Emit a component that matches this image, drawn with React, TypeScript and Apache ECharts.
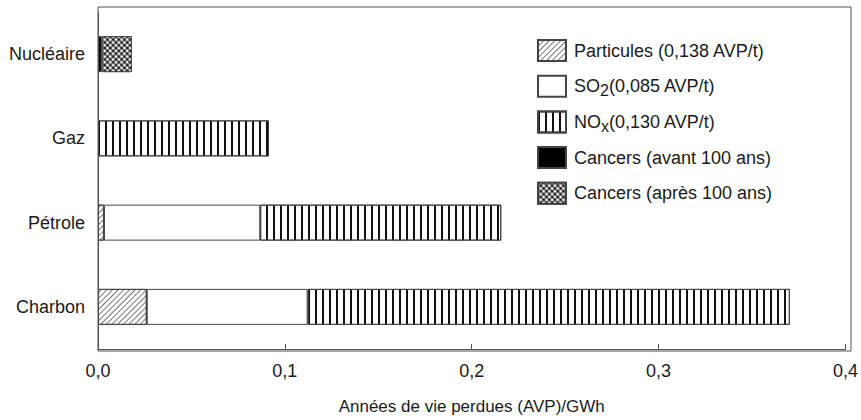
import React, { useEffect, useRef } from "react";
import * as echarts from "echarts";

const categories = ["Nucléaire", "Gaz", "Pétrole", "Charbon"];
const particules = [null, null, 0.0032, 0.0261];
const so2 = [null, null, 0.0836, 0.0861];
const nox = [null, 0.0915, 0.129, 0.258];
const cancersAvant = [0.002, null, null, null];
const cancersApres = [0.0161, null, null, null];
const xTickLabels = ["0,0", "0,1", "0,2", "0,3", "0,4"];
const seriesNames = [
  "Particules (0,138 AVP/t)",
  "SO2(0,085 AVP/t)",
  "NOx(0,130 AVP/t)",
  "Cancers (avant 100 ans)",
  "Cancers (après 100 ans)",
];
const legendLabels = [
  "{n|Particules (0,138 AVP/t)}",
  "{n|SO}{sub|2}{n|(0,085 AVP/t)}",
  "{n|NO}{sub|x}{n|(0,130 AVP/t)}",
  "{n|Cancers (avant 100 ans)}",
  "{n|Cancers (après 100 ans)}",
];
const xTitle = "Années de vie perdues (AVP)/GWh";

const FONT = "'Liberation Sans', Arial, Helvetica, sans-serif";
const TEXT = "#1a1a1a";
const LINE = "#555";

export default function App() {
  const ref = useRef<HTMLDivElement>(null);
  useEffect(() => {
    document.body.style.margin = "0";
    const chart = echarts.init(ref.current!, undefined, { renderer: "svg" });
    const border = { borderColor: "#444", borderWidth: 1 };
    const mk = (name: string, data: any[], itemStyle: any) => ({
      name,
      type: "bar",
      stack: "total",
      barWidth: 36,
      data,
      itemStyle: { ...border, ...itemStyle },
      emphasis: { disabled: true },
    });
    chart.setOption({
      animation: false,
      backgroundColor: "#fff",
      textStyle: { fontFamily: FONT },
      grid: { left: 98, right: 11, top: 12, bottom: 69, containLabel: false },
      legend: {
        orient: "vertical",
        left: 537,
        top: 38,
        padding: 0,
        itemWidth: 28,
        itemHeight: 21,
        itemGap: 10.7,
        selectedMode: false,
        icon: "rect",
        data: seriesNames,
        formatter: (name: string) => legendLabels[seriesNames.indexOf(name)],
        textStyle: {
          fontFamily: FONT,
          fontSize: 18,
          color: TEXT,
          lineHeight: 25,
          padding: [0, 0, 0, 3],
          rich: {
            n: { fontFamily: FONT, fontSize: 18, color: TEXT, lineHeight: 25 },
            sub: {
              fontFamily: FONT,
              fontSize: 16,
              color: TEXT,
              lineHeight: 16,
              padding: [9, 0, 0, 0],
            },
          },
        },
      },
      xAxis: {
        type: "value",
        min: 0,
        max: 0.4,
        interval: 0.1,
        splitLine: { show: false },
        axisLine: { show: true, lineStyle: { color: LINE, width: 1 } },
        axisTick: { show: true, inside: true, length: 5, lineStyle: { color: LINE } },
        axisLabel: {
          fontFamily: FONT,
          fontSize: 18,
          color: TEXT,
          margin: 13,
          formatter: (_v: number, i: number) => xTickLabels[i],
        },
        name: xTitle,
        nameLocation: "middle",
        nameGap: 49,
        nameTextStyle: { fontFamily: FONT, fontSize: 17, color: TEXT },
      },
      yAxis: {
        type: "category",
        inverse: true,
        data: categories,
        axisLine: { show: true, lineStyle: { color: LINE, width: 1 } },
        axisTick: { show: false },
        axisLabel: { fontFamily: FONT, fontSize: 18, color: TEXT, margin: 13 },
      },
      graphic: [
        {
          type: "rect",
          shape: { x: 98, y: 7, width: 753, height: 344 },
          style: { fill: "none", stroke: LINE, lineWidth: 1 },
          silent: true,
          z: 100,
        },
      ],
      series: [
        mk(seriesNames[0], particules, {
          color: "#fff",
          decal: {
            symbol: "rect",
            symbolSize: 1,
            color: "#777",
            dashArrayX: [1, 3],
            dashArrayY: [4, 0],
            rotation: Math.PI / 4,
          },
        }),
        mk(seriesNames[1], so2, { color: "#fff" }),
        mk(seriesNames[2], nox, {
          color: "#fff",
          decal: {
            symbol: "rect",
            symbolSize: 1,
            color: "#111",
            dashArrayX: [2, 5],
            dashArrayY: [10, 0],
            rotation: 0,
          },
        }),
        mk(seriesNames[3], cancersAvant, { color: "#000" }),
        mk(seriesNames[4], cancersApres, {
          color: "#222",
          decal: {
            symbol: "circle",
            symbolSize: 0.78,
            color: "#fff",
            dashArrayX: [4, 0],
            dashArrayY: [4, 0],
            rotation: Math.PI / 4,
          },
        }),
      ],
    });
    return () => chart.dispose();
  }, []);
  return <div ref={ref} style={{ width: 861, height: 420 }} />;
}
